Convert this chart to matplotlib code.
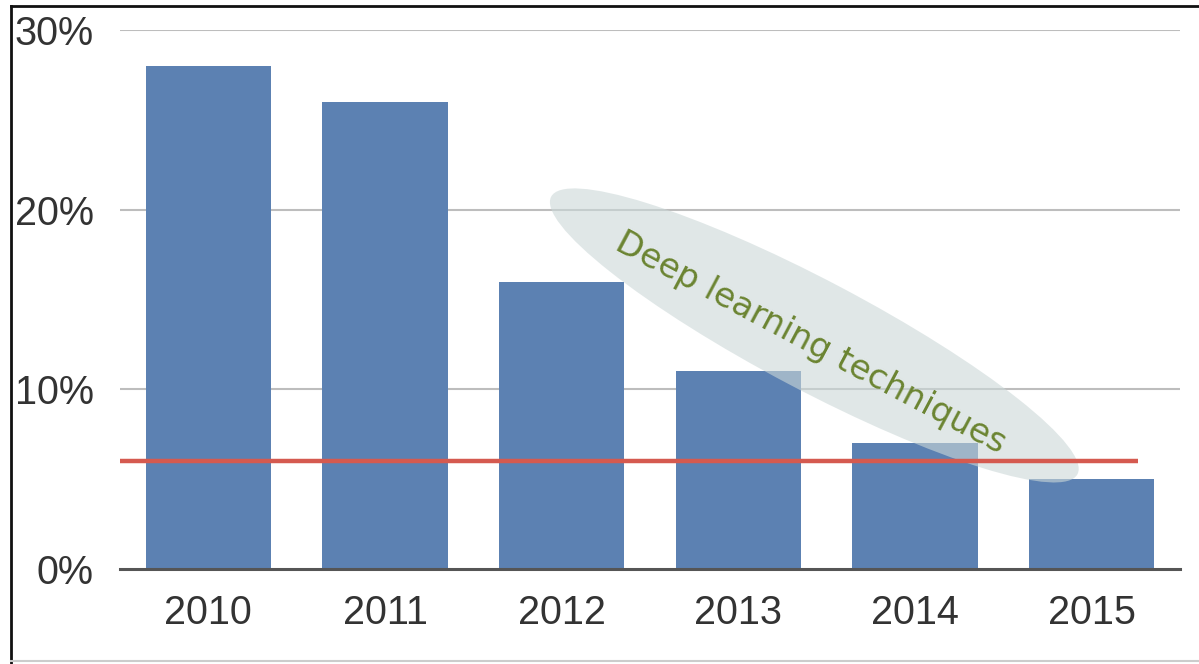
import matplotlib
matplotlib.use('Agg')
import numpy as np
from matplotlib import pyplot as plt
from matplotlib import transforms
from matplotlib.patches import Ellipse
from matplotlib.lines import Line2D

# data
years = ['2010', '2011', '2012', '2013', '2014', '2015']
error_pct = [28.0, 26.0, 16.0, 11.0, 7.0, 5.0]
human_level = 6.0
y_ticks = [0, 10, 20, 30]
y_labels = ['0%', '10%', '20%', '30%']
note = 'Deep learning techniques'

plt.rcParams['font.family'] = ['Liberation Sans', 'DejaVu Sans']

fig = plt.figure(figsize=(11.99, 6.64), dpi=100)
ax = fig.add_axes([120 / 1199, 95 / 664, 1060 / 1199, 539 / 664])

x = np.arange(len(years))
ax.bar(x, error_pct, width=0.71, color='#5c81b2', zorder=2)

ax.set_xlim(-0.5, 5.5)
ax.set_ylim(0, 30)
ax.set_yticks(y_ticks)
ax.set_yticklabels(y_labels)
ax.set_xticks(x)
ax.set_xticklabels(years)
ax.tick_params(axis='both', length=0, labelsize=28.5, colors='#333333')
ax.tick_params(axis='y', pad=19)
ax.tick_params(axis='x', pad=18)

for v in y_ticks[1:]:
    ax.axhline(v, color='#bdbdbd', lw=1.5, zorder=1)

for side in ['left', 'right', 'top']:
    ax.spines[side].set_visible(False)
ax.spines['bottom'].set_color('#555555')
ax.spines['bottom'].set_linewidth(2.2)
ax.spines['bottom'].set_zorder(5)

# highlighted band, sized in inches, centred in data units
xc, yc = 3.43, 13.0
band_tr = fig.dpi_scale_trans + transforms.ScaledTranslation(xc, yc, ax.transData)
ax.add_patch(Ellipse((0, 0), 5.95, 1.1, angle=-27.8, transform=band_tr,
                     facecolor='#ccd8d8', edgecolor='none', alpha=0.6,
                     zorder=3, clip_on=False))
ax.text(xc - 0.02, yc - 0.4, note, rotation=-28, rotation_mode='anchor',
        ha='center', va='center', fontsize=24.5, color='#6b8431',
        family=['DejaVu Sans'], zorder=4)

# human-level line
ax.plot([-0.5, 5.26], [human_level, human_level], color='#d55a50',
        lw=3.2, zorder=4, solid_capstyle='butt')

# frame around the slide
fig.add_artist(Line2D([11 / 1199, 11 / 1199], [0, 658 / 664], color='#111111', lw=2))
fig.add_artist(Line2D([11 / 1199, 1], [658 / 664, 658 / 664], color='#111111', lw=2))
fig.add_artist(Line2D([11 / 1199, 1], [3 / 664, 3 / 664], color='#cccccc', lw=1.5))

fig.savefig('out.png', dpi=100)
